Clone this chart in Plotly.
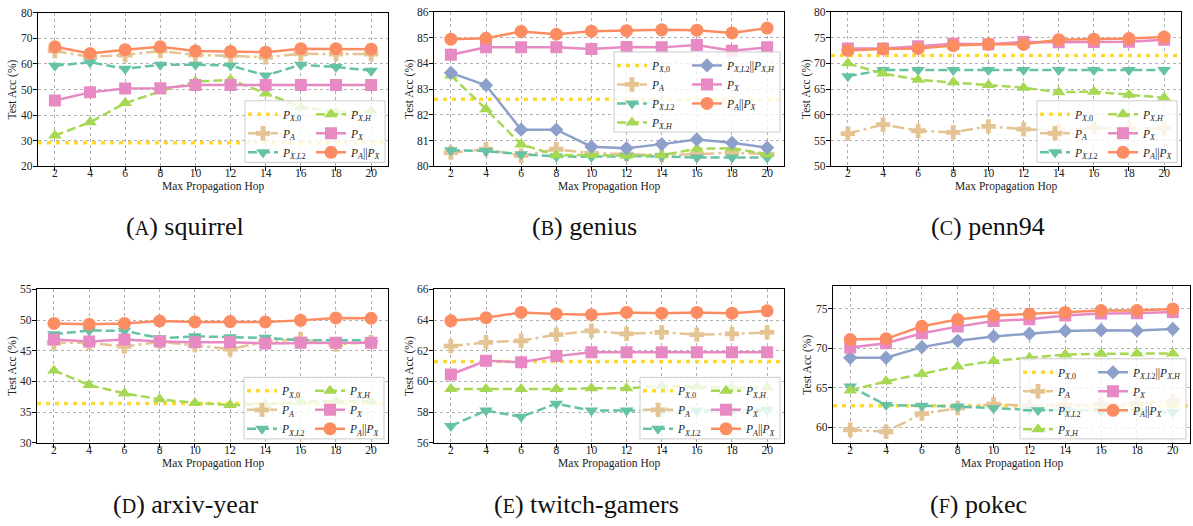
import plotly.graph_objects as go

W, H = 1193, 526
hops = [2, 4, 6, 8, 10, 12, 14, 16, 18, 20]
x_range = [1.04, 20.96]

# ---------------- data (Test Acc %) ----------------
# (A) squirrel
sq_px0 = 29.2
sq_pa = [65.1, 62.8, 63.5, 65.1, 63.5, 63.2, 62.6, 64.0, 63.9, 63.9]
sq_pxl2 = [59.3, 60.7, 58.1, 59.7, 59.7, 59.4, 55.5, 59.7, 58.8, 57.4]
sq_pxh = [32.0, 37.2, 44.7, 49.3, 53.1, 53.8, 48.5, 43.2, 41.2, 41.6]
sq_px = [45.7, 48.9, 50.4, 50.5, 51.8, 51.8, 51.8, 51.8, 51.8, 51.8]
sq_pax = [66.7, 64.1, 65.6, 66.7, 65.1, 64.9, 64.6, 66.0, 66.0, 65.8]

# (B) genius
ge_px0 = 82.6
ge_pa = [80.53, 80.66, 80.41, 80.66, 80.51, 80.47, 80.43, 80.47, 80.53, 80.47]
ge_pxl2 = [80.62, 80.59, 80.47, 80.38, 80.37, 80.39, 80.38, 80.34, 80.34, 80.34]
ge_pxh = [83.53, 82.22, 80.85, 80.43, 80.44, 80.41, 80.43, 80.68, 80.70, 80.47]
ge_pxl2h = [83.63, 83.15, 81.42, 81.42, 80.76, 80.70, 80.86, 81.04, 80.91, 80.72]
ge_px = [84.33, 84.62, 84.62, 84.62, 84.56, 84.63, 84.62, 84.71, 84.49, 84.62]
ge_pax = [84.94, 84.97, 85.24, 85.13, 85.25, 85.27, 85.30, 85.29, 85.18, 85.37]

# (C) penn94
pe_px0 = 71.5
pe_pa = [56.35, 58.1, 56.9, 56.6, 57.75, 57.2, 56.9, 57.5, 57.3, 57.4]
pe_pxl2 = [67.5, 68.7, 68.7, 68.7, 68.7, 68.7, 68.7, 68.7, 68.7, 68.7]
pe_pxh = [70.0, 68.0, 66.8, 66.3, 65.8, 65.25, 64.4, 64.5, 63.9, 63.3]
pe_px = [72.9, 72.9, 73.3, 73.8, 73.7, 74.15, 74.1, 74.15, 74.2, 74.6]
pe_pax = [72.5, 72.8, 72.9, 73.45, 73.7, 73.7, 74.6, 74.7, 74.8, 75.1]

# (D) arxiv-year
ar_px0 = 36.4
ar_pa = [46.3, 46.3, 45.7, 46.45, 45.9, 45.25, 46.45, 46.9, 46.0, 46.4]
ar_pxl2 = [47.7, 48.3, 48.25, 47.05, 47.35, 47.2, 47.1, 46.7, 46.7, 46.7]
ar_pxh = [41.8, 39.4, 38.05, 37.1, 36.5, 36.15, 36.25, 36.7, 36.8, 36.75]
ar_px = [46.85, 46.5, 46.85, 46.5, 46.4, 46.4, 46.2, 46.3, 46.3, 46.3]
ar_pax = [49.45, 49.3, 49.45, 49.85, 49.7, 49.75, 49.7, 49.95, 50.35, 50.3]

# (E) twitch-gamers
tw_px0 = 61.3
tw_pa = [62.3, 62.55, 62.65, 63.05, 63.3, 63.1, 63.2, 63.05, 63.1, 63.2]
tw_pxl2 = [57.1, 58.1, 57.7, 58.55, 58.1, 58.1, 58.1, 58.1, 58.1, 58.15]
tw_pxh = [59.5, 59.5, 59.5, 59.5, 59.55, 59.55, 59.7, 59.65, 59.6, 59.6]
tw_px = [60.45, 61.35, 61.25, 61.65, 61.9, 61.9, 61.9, 61.9, 61.9, 61.9]
tw_pax = [63.95, 64.15, 64.5, 64.4, 64.35, 64.5, 64.45, 64.5, 64.45, 64.6]

# (F) pokec
po_px0 = 62.7
po_pa = [59.65, 59.4, 61.7, 62.4, 62.9, 62.7, 62.8, 62.9, 63.0, 63.3]
po_pxl2 = [65.15, 62.8, 62.7, 62.6, 62.4, 62.2, 62.2, 62.05, 62.0, 61.9]
po_pxh = [64.65, 65.8, 66.75, 67.7, 68.4, 68.8, 69.2, 69.3, 69.35, 69.35]
po_pxl2h = [68.8, 68.8, 70.15, 70.95, 71.5, 71.85, 72.2, 72.3, 72.25, 72.45]
po_px = [70.1, 70.65, 71.9, 72.75, 73.45, 73.7, 74.15, 74.4, 74.45, 74.6]
po_pax = [71.1, 71.2, 72.8, 73.65, 74.15, 74.35, 74.55, 74.8, 74.8, 75.0]

captions = ["squirrel", "genius", "penn94", "arxiv-year", "twitch-gamers", "pokec"]
letters = ["A", "B", "C", "D", "E", "F"]
x_title = "Max Propagation Hop"
y_title = "Test Acc (%)"

# ---------------- styles ----------------
STYLE = {
    "px0": dict(name="<i>P</i><sub><i>X</i>,0</sub>", color="#ffd92f", dash="4px,5px", width=3.5, symbol=None),
    "pa": dict(name="<i>P</i><sub><i>A</i></sub>", color="#e5c494", dash="12px,4px,3px,4px", width=2.5, symbol="cross"),
    "pxl2": dict(name="<i>P</i><sub><i>X</i>,<i>L</i>2</sub>", color="#66c2a5", dash="9px,4px", width=2.5, symbol="triangle-down"),
    "pxh": dict(name="<i>P</i><sub><i>X</i>,<i>H</i></sub>", color="#a6d854", dash="9px,4px", width=2.5, symbol="triangle-up"),
    "pxl2h": dict(name="<i>P</i><sub><i>X</i>,<i>L</i>2</sub>||<i>P</i><sub><i>X</i>,<i>H</i></sub>", color="#8da0cb", dash="solid", width=2.5, symbol="diamond"),
    "px": dict(name="<i>P</i><sub><i>X</i></sub>", color="#e78ac3", dash="solid", width=2.5, symbol="square"),
    "pax": dict(name="<i>P</i><sub><i>A</i></sub>||<i>P</i><sub><i>X</i></sub>", color="#fc8d62", dash="solid", width=2.5, symbol="circle"),
}
MSIZE = {"cross": 12, "triangle-down": 12, "triangle-up": 12, "diamond": 11, "square": 12, "circle": 13}

FONT = "Liberation Serif"

panels = [
    dict(box=(38, 388, 7, 164), yr=[20, 80], dt=10, px0=sq_px0,
         series=[("pa", sq_pa), ("pxl2", sq_pxl2), ("pxh", sq_pxh), ("px", sq_px), ("pax", sq_pax)],
         col1=["px0", "pa", "pxl2"], leg=(385, 160), cap=(185, 226)),
    dict(box=(434, 784, 6, 164), yr=[80, 86], dt=1, px0=ge_px0,
         series=[("pa", ge_pa), ("pxl2", ge_pxl2), ("pxh", ge_pxh), ("pxl2h", ge_pxl2h), ("px", ge_px), ("pax", ge_pax)],
         col1=["px0", "pa", "pxl2", "pxh"], leg=(780, 129), cap=(584, 226)),
    dict(box=(831, 1181, 6, 164), yr=[50, 80], dt=5, px0=pe_px0,
         series=[("pa", pe_pa), ("pxl2", pe_pxl2), ("pxh", pe_pxh), ("px", pe_px), ("pax", pe_pax)],
         col1=["px0", "pa", "pxl2"], leg=(1177, 160), cap=(988, 226)),
    dict(box=(37, 388, 290, 447), yr=[30, 55], dt=5, px0=ar_px0,
         series=[("pa", ar_pa), ("pxl2", ar_pxl2), ("pxh", ar_pxh), ("px", ar_px), ("pax", ar_pax)],
         col1=["px0", "pa", "pxl2"], leg=(384, 443), cap=(185, 510)),
    dict(box=(434, 784, 290, 447), yr=[56, 66], dt=2, px0=tw_px0,
         series=[("pa", tw_pa), ("pxl2", tw_pxl2), ("pxh", tw_pxh), ("px", tw_px), ("pax", tw_pax)],
         col1=["px0", "pa", "pxl2"], leg=(780, 443), cap=(586, 510)),
    dict(box=(833, 1190, 287, 447), yr=[58.0, 77.85], dt=5, px0=po_px0,
         series=[("pa", po_pa), ("pxl2", po_pxl2), ("pxh", po_pxh), ("pxl2h", po_pxl2h), ("px", po_px), ("pax", po_pax)],
         col1=["px0", "pa", "pxl2", "pxh"], leg=(1186, 443), cap=(978, 510)),
]


def xp(v):
    return v / W


def yp(v):
    return 1 - v / H


fig = go.Figure()
layout = dict(
    width=W, height=H, margin=dict(l=0, r=0, t=0, b=0),
    paper_bgcolor="white", plot_bgcolor="white",
    font=dict(family=FONT, size=11, color="#222"),
    showlegend=True,
)
shapes = []
annotations = []

for i, p in enumerate(panels):
    n = i + 1
    xa = "x" if n == 1 else f"x{n}"
    ya = "y" if n == 1 else f"y{n}"
    leg1 = "legend" if n == 1 else f"legend{2 * n - 1}"
    leg2 = f"legend{2 * n}"
    x0, x1, y0, y1 = p["box"]

    # baseline P_X,0 spans the whole axis
    s = STYLE["px0"]
    fig.add_trace(go.Scatter(
        x=x_range, y=[p["px0"], p["px0"]], mode="lines", name=s["name"],
        line=dict(color=s["color"], dash=s["dash"], width=s["width"]),
        xaxis=xa, yaxis=ya, legend=leg1, hoverinfo="skip"))
    for key, vals in p["series"]:
        s = STYLE[key]
        fig.add_trace(go.Scatter(
            x=hops, y=vals, mode="lines+markers", name=s["name"],
            line=dict(color=s["color"], dash=s["dash"], width=s["width"]),
            marker=dict(symbol=s["symbol"], size=MSIZE[s["symbol"]], color=s["color"],
                        line=dict(width=0)),
            xaxis=xa, yaxis=ya, legend=leg1 if key in p["col1"] else leg2))

    axis_common = dict(
        showline=True, linecolor="black", linewidth=1.2, mirror=True,
        ticks="outside", ticklen=4, tickwidth=1, tickcolor="black",
        showgrid=True, gridcolor="#b0b0b0", griddash="dot", gridwidth=1,
        zeroline=False, tickfont=dict(family=FONT, size=11.5, color="#222"),
    )
    xkey = "xaxis" if n == 1 else f"xaxis{n}"
    ykey = "yaxis" if n == 1 else f"yaxis{n}"
    layout[xkey] = dict(axis_common, domain=[xp(x0), xp(x1)], anchor=ya, range=x_range,
                        tickmode="array", tickvals=hops, ticklabelstandoff=-8)
    ticks = []
    t = p["yr"][0] if p["yr"][0] % p["dt"] == 0 else (int(p["yr"][0] / p["dt"]) + 1) * p["dt"]
    while t <= p["yr"][1] + 1e-9:
        ticks.append(t)
        t += p["dt"]
    layout[ykey] = dict(axis_common, domain=[yp(y1), yp(y0)], anchor=xa, range=p["yr"],
                        tickmode="array", tickvals=ticks, ticklabelstandoff=-2)

    # axis titles
    annotations.append(dict(xref="paper", yref="paper", x=xp((x0 + x1) / 2), y=yp(y1 + 21),
                            xanchor="center", yanchor="middle", showarrow=False, text=x_title,
                            font=dict(family=FONT, size=11.5, color="#222")))
    annotations.append(dict(xref="paper", yref="paper", x=xp(x0 - 25), y=yp((y0 + y1) / 2),
                            xanchor="center", yanchor="middle", showarrow=False, text=y_title,
                            textangle=-90, font=dict(family=FONT, size=11.5, color="#222")))

    # legends (two columns) with a shared box
    rows = len(p["col1"])
    rx, by = p["leg"]
    tw = 166 if rows == 4 else 140
    boxh = rows * 19 + 6
    top = by - boxh
    shapes.append(dict(type="rect", xref="paper", yref="paper",
                       x0=xp(rx - tw), x1=xp(rx), y0=yp(by), y1=yp(top),
                       fillcolor="rgba(255,255,255,0.8)", line=dict(color="#cccccc", width=1),
                       layer="above"))
    legcommon = dict(bgcolor="rgba(0,0,0,0)", borderwidth=0, yanchor="top",
                     font=dict(family=FONT, size=11.5, color="#222"), traceorder="normal",
                     tracegroupgap=0, y=yp(top - 1))
    layout[leg1] = dict(legcommon, x=xp(rx - tw - 2), xanchor="left")
    layout[leg2] = dict(legcommon, x=xp(rx + 2), xanchor="right")

    annotations.append(dict(
        xref="paper", yref="paper", x=xp(p["cap"][0]), y=yp(p["cap"][1]),
        xanchor="center", yanchor="middle", showarrow=False,
        text=f"(<span style='font-size:20px'>{letters[i]}</span>) {captions[i]}",
        font=dict(family=FONT, size=26, color="#111")))

layout["shapes"] = shapes
layout["annotations"] = annotations
fig.update_layout(**layout)
fig.write_html("out.html", config={"displayModeBar": False},
               post_script="document.body.style.margin='0px';")
